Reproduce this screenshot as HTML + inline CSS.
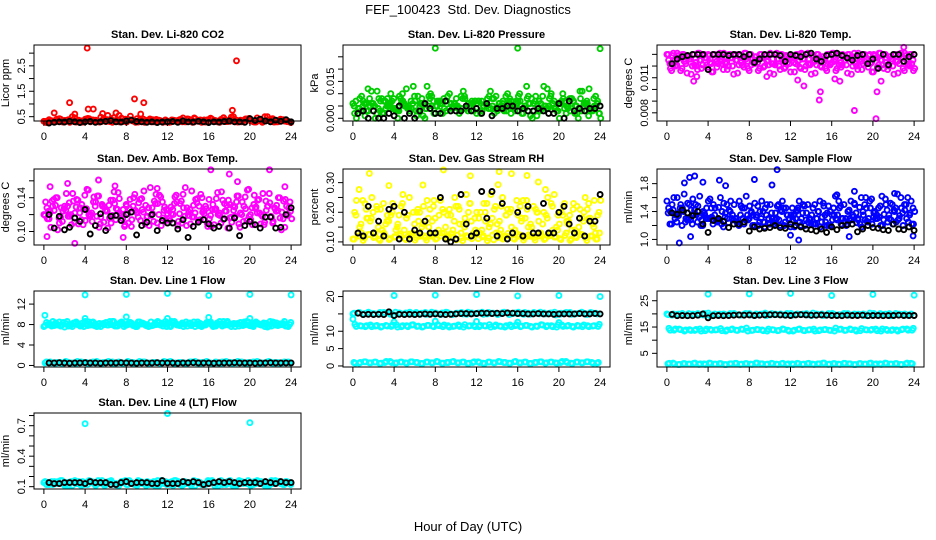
<!DOCTYPE html>
<html><head><meta charset="utf-8"><style>
html,body{margin:0;padding:0;background:#fff;}
svg{display:block;font-family:"Liberation Sans",sans-serif;}
</style></head><body>
<svg id="chart" width="936" height="540" viewBox="0 0 936 540" xmlns="http://www.w3.org/2000/svg">
<rect width="936" height="540" fill="#fff"/>
<text x="468" y="14" text-anchor="middle" font-size="13">FEF_100423&#160; Std. Dev. Diagnostics</text>
<text x="468" y="531" text-anchor="middle" font-size="13">Hour of Day (UTC)</text>
</svg>
<script>
const hourTicks=[0,4,8,12,16,20,24];
// CO2
const co2Red1=[0.32,0.38,0.3,0.42,0.35,0.28,0.45,0.33,0.4,0.3,0.36,0.48,0.31,0.39,0.34,0.44,0.29,0.37,0.42,0.33,0.3,0.38,0.35,0.28,0.32,0.36,0.3,0.34,0.4,0.29,0.33,0.37,0.31,0.35,0.28,0.38,0.32,0.3,0.36,0.41,0.33,0.29,0.37,0.34,0.4,0.3,0.35,0.31];
const co2Red2=[0.27,0.33,0.4,0.3,0.36,0.5,0.34,0.29,0.43,0.37,0.31,0.4,0.35,0.46,0.3,0.33,0.38,0.32,0.36,0.28,0.41,0.3,0.34,0.37,0.29,0.32,0.39,0.3,0.35,0.33,0.28,0.36,0.4,0.3,0.34,0.31,0.37,0.29,0.33,0.42,0.3,0.36,0.32,0.38,0.29,0.35,0.33,0.3];
const co2OutX=[1.0,2.5,3.0,4.2,4.3,4.8,5.7,6.2,7.0,7.3,8.8,9.4,9.7,13.5,14.6,18.3,18.7,21.7,18.4,8.4];
const co2OutY=[0.65,1.05,0.6,3.2,0.8,0.8,0.62,0.55,0.65,0.55,1.2,0.6,1.05,0.45,0.45,0.75,2.7,0.5,0.5,0.52];
const co2Black=[0.25,0.28,0.3,0.29,0.32,0.3,0.27,0.3,0.31,0.28,0.3,0.32,0.34,0.3,0.29,0.33,0.36,0.31,0.3,0.28,0.3,0.27,0.29,0.3,0.31,0.28,0.33,0.3,0.29,0.32,0.3,0.27,0.3,0.29,0.31,0.33,0.3,0.3,0.28,0.42,0.35,0.4,0.33,0.3,0.36,0.32,0.38,0.3];
// Pressure
const prsGreen1=[0.006,0.004,0.007,0.003,0.005,0.008,0.002,0.006,0.004,0.009,0.005,0.003,0.007,0.006,0.004,0.01,0.005,0.007,0.003,0.006,0.008,0.004,0.005,0.007,0.006,0.003,0.008,0.005,0.004,0.007,0.006,0.005,0.009,0.004,0.006,0.003,0.007,0.005,0.008,0.004,0.006,0.007,0.003,0.005,0.008,0.006,0.004,0.005];
const prsGreen2=[0.002,0.008,0.001,0.005,0.0,0.007,0.004,0.01,0.003,0.006,0.012,0.004,0.001,0.008,0.013,0.005,0.007,0.002,0.009,0.005,0.004,0.011,0.006,0.003,0.007,0.005,0.009,0.002,0.006,0.004,0.008,0.003,0.007,0.005,0.001,0.009,0.006,0.004,0.01,0.003,0.007,0.005,0.008,0.002,0.011,0.006,0.003,0.007];
const prsGreen3=[0.0,0.009,0.003,0.006,0.011,0.002,0.008,0.004,0.0,0.007,0.005,0.013,0.003,0.006,0.009,0.002,0.007,0.004,0.01,0.006,0.003,0.008,0.005,0.007,0.002,0.006,0.004,0.009,0.005,0.003,0.007,0.006,0.002,0.008,0.0,0.005,0.009,0.004,0.006,0.003,0.008,0.005,0.007,0.004,0.006,0.012,0.005,0.002];
const prsOutX=[8,16,24];
const prsOutY=[0.0285,0.0285,0.0283];
const prsBlack=[0.002,0.003,0.0,0.003,0.0,0.0,0.002,0.001,0.005,0.0,0.002,0.0,0.003,0.006,0.004,0.002,0.002,0.007,0.003,0.003,0.003,0.005,0.003,0.004,0.002,0.006,0.001,0.004,0.004,0.005,0.005,0.003,0.004,0.003,0.003,0.004,0.003,0.002,0.002,0.006,0.0,0.007,0.003,0.004,0.003,0.004,0.004,0.005];
// Li-820 Temp
const tmpMag1=[0.013,0.0129,0.0131,0.013,0.0128,0.013,0.0131,0.0129,0.013,0.013,0.0128,0.0131,0.013,0.0129,0.013,0.0131,0.013,0.0128,0.013,0.0129,0.0131,0.013,0.013,0.0129,0.0128,0.013,0.0131,0.013,0.0129,0.013,0.0128,0.013,0.0131,0.0129,0.013,0.013,0.0128,0.0131,0.013,0.0129,0.013,0.0131,0.013,0.0128,0.013,0.0129,0.0131,0.013];
const tmpMag2=[0.0125,0.0122,0.0127,0.0124,0.0126,0.0121,0.0125,0.0127,0.0123,0.0126,0.0124,0.0122,0.0127,0.0125,0.0123,0.0126,0.0121,0.0125,0.0127,0.0124,0.0122,0.0126,0.0125,0.0123,0.0127,0.0124,0.0126,0.0122,0.0125,0.0127,0.0123,0.0126,0.0124,0.0121,0.0125,0.0127,0.0123,0.0126,0.0124,0.0122,0.0127,0.0125,0.0123,0.0126,0.0124,0.0127,0.0125,0.0122];
const tmpMag3=[0.0118,0.012,0.0116,0.0122,0.0113,0.012,0.0118,0.0121,0.0115,0.0119,0.0122,0.0117,0.012,0.0114,0.0121,0.0118,0.0123,0.0116,0.0119,0.0121,0.0113,0.012,0.0118,0.0122,0.0115,0.0119,0.0117,0.0121,0.0114,0.012,0.0118,0.0122,0.0116,0.0119,0.0121,0.0113,0.012,0.0117,0.0122,0.0115,0.0119,0.0121,0.0117,0.012,0.0114,0.0118,0.0121,0.0116];
const tmpOutX=[2.6,2.9,9.7,12.7,13.3,14.9,14.8,16.3,16.8,18.2,20.3,20.4,23.0,20.8];
const tmpOutY=[0.0107,0.0111,0.0111,0.0108,0.0103,0.0098,0.0091,0.0109,0.0107,0.0082,0.0075,0.0098,0.0136,0.0107];
const tmpBlack=[0.0122,0.0126,0.0128,0.0129,0.013,0.013,0.013,0.0117,0.013,0.013,0.013,0.0129,0.013,0.013,0.0128,0.013,0.0123,0.0126,0.013,0.013,0.013,0.0129,0.0124,0.013,0.0129,0.0128,0.013,0.0131,0.0126,0.0124,0.0129,0.013,0.0131,0.0129,0.0127,0.0125,0.0129,0.013,0.0122,0.0126,0.0118,0.013,0.0121,0.013,0.013,0.0124,0.0128,0.013];
// Amb box temp
const amb1=[0.12,0.115,0.125,0.11,0.13,0.118,0.122,0.128,0.113,0.12,0.135,0.117,0.124,0.11,0.127,0.119,0.13,0.114,0.122,0.126,0.118,0.121,0.133,0.116,0.125,0.12,0.112,0.128,0.123,0.117,0.13,0.121,0.115,0.126,0.119,0.124,0.132,0.118,0.122,0.127,0.114,0.129,0.12,0.125,0.117,0.131,0.123,0.119];
const amb2=[0.135,0.105,0.14,0.128,0.145,0.108,0.138,0.132,0.15,0.112,0.142,0.13,0.104,0.137,0.146,0.126,0.11,0.14,0.134,0.148,0.107,0.136,0.143,0.129,0.113,0.141,0.133,0.152,0.109,0.138,0.144,0.127,0.106,0.139,0.147,0.131,0.111,0.142,0.135,0.149,0.108,0.137,0.145,0.13,0.112,0.14,0.136,0.128];
const amb3=[0.115,0.13,0.102,0.124,0.118,0.136,0.109,0.127,0.12,0.141,0.105,0.129,0.116,0.133,0.122,0.108,0.138,0.125,0.113,0.131,0.119,0.144,0.107,0.126,0.121,0.135,0.11,0.128,0.117,0.139,0.123,0.106,0.132,0.12,0.114,0.137,0.125,0.109,0.13,0.118,0.143,0.122,0.111,0.134,0.127,0.116,0.138,0.124];
const ambOutX=[0.6,0.3,2.3,3.0,5.3,6.9,7.7,16.2,18.0,21.9,23.4,11.0,18.8];
const ambOutY=[0.153,0.094,0.157,0.086,0.161,0.154,0.093,0.173,0.168,0.173,0.153,0.151,0.159];
const ambBlack=[0.12,0.104,0.118,0.102,0.105,0.116,0.112,0.126,0.097,0.107,0.121,0.101,0.118,0.119,0.113,0.12,0.123,0.096,0.107,0.111,0.12,0.101,0.113,0.11,0.11,0.103,0.114,0.093,0.106,0.111,0.114,0.109,0.104,0.106,0.115,0.104,0.116,0.095,0.107,0.112,0.108,0.104,0.117,0.117,0.104,0.105,0.12,0.128];
// Gas stream RH
const rh1=[0.11,0.12,0.105,0.125,0.115,0.11,0.13,0.108,0.118,0.122,0.112,0.127,0.106,0.119,0.114,0.124,0.109,0.12,0.116,0.128,0.107,0.113,0.121,0.111,0.126,0.117,0.104,0.123,0.115,0.11,0.129,0.112,0.119,0.106,0.124,0.114,0.12,0.108,0.127,0.116,0.111,0.122,0.105,0.118,0.125,0.113,0.12,0.109];
const rh2=[0.2,0.15,0.23,0.17,0.13,0.21,0.16,0.19,0.14,0.22,0.18,0.12,0.2,0.15,0.24,0.17,0.13,0.21,0.19,0.14,0.22,0.16,0.2,0.13,0.18,0.23,0.15,0.21,0.17,0.12,0.2,0.14,0.22,0.18,0.16,0.21,0.13,0.19,0.23,0.15,0.2,0.17,0.14,0.22,0.18,0.21,0.16,0.19];
const rh3=[0.24,0.13,0.18,0.25,0.21,0.14,0.19,0.23,0.16,0.26,0.12,0.2,0.17,0.22,0.15,0.24,0.19,0.13,0.21,0.25,0.16,0.18,0.23,0.14,0.2,0.17,0.26,0.13,0.22,0.19,0.15,0.24,0.18,0.21,0.12,0.2,0.16,0.25,0.14,0.19,0.22,0.17,0.23,0.15,0.2,0.18,0.24,0.13];
const rhOutX=[1.6,8.8,11.4,14.2,15.4,16.9,0.6,3.5,6.8,14.1,18.0,18.7];
const rhOutY=[0.331,0.343,0.323,0.337,0.33,0.324,0.277,0.29,0.292,0.293,0.302,0.277];
const rhBlack=[0.13,0.12,0.22,0.13,0.17,0.12,0.21,0.22,0.11,0.2,0.11,0.14,0.13,0.17,0.13,0.13,0.25,0.11,0.1,0.11,0.26,0.16,0.12,0.13,0.27,0.18,0.27,0.12,0.23,0.11,0.13,0.2,0.12,0.22,0.13,0.13,0.23,0.13,0.13,0.2,0.22,0.16,0.13,0.18,0.12,0.17,0.17,0.26];
// Sample flow
const sf1=[1.55,1.5,1.6,1.45,1.52,1.58,1.48,1.4,1.55,1.5,1.46,1.52,1.42,1.5,1.55,1.45,1.48,1.52,1.4,1.45,1.5,1.38,1.42,1.45,1.35,1.4,1.3,1.38,1.35,1.3,1.32,1.38,1.28,1.35,1.3,1.4,1.32,1.28,1.35,1.3,1.38,1.32,1.36,1.3,1.4,1.34,1.42,1.38];
const sf2=[1.45,1.6,1.38,1.65,1.5,1.42,1.62,1.35,1.58,1.45,1.6,1.38,1.55,1.3,1.48,1.62,1.4,1.35,1.55,1.5,1.3,1.48,1.55,1.35,1.28,1.45,1.5,1.25,1.22,1.4,1.48,1.2,1.35,1.45,1.25,1.3,1.5,1.22,1.28,1.45,1.3,1.2,1.5,1.28,1.25,1.45,1.3,1.22];
const sf3=[1.4,1.35,1.5,1.3,1.42,1.35,1.28,1.45,1.32,1.25,1.4,1.3,1.35,1.22,1.3,1.28,1.35,1.2,1.25,1.3,1.22,1.28,1.2,1.3,1.18,1.25,1.2,1.28,1.22,1.18,1.25,1.2,1.3,1.22,1.2,1.28,1.24,1.18,1.26,1.22,1.3,1.2,1.25,1.22,1.28,1.2,1.25,1.22];
const sfOutX=[1.2,2.3,2.2,2.7,1.7,3.5,5.1,5.7,8.5,10.2,10.7,12.0,12.8,18.2,19.3,16.5,22.1,17.7,23.9];
const sfOutY=[0.95,1.04,1.89,1.91,1.81,1.82,1.85,1.77,1.86,1.78,2.0,1.06,0.99,1.69,1.6,1.64,1.66,1.04,1.05];
const sfBlack=[1.38,1.36,1.42,1.38,1.34,1.4,1.22,1.1,1.27,1.3,1.26,1.17,1.22,1.22,1.25,1.12,1.18,1.15,1.16,1.17,1.2,1.17,1.16,1.22,1.2,1.18,1.15,1.14,1.12,1.15,1.1,1.18,1.14,1.2,1.21,1.22,1.11,1.15,1.2,1.17,1.16,1.14,1.13,1.22,1.15,1.14,1.18,1.13];
// Line 1
const l1a=[7.6,8.2,7.8,8.5,7.5,8.0,8.3,7.7,8.6,7.9,8.1,7.6,8.4,8.0,7.7,8.5,7.9,8.2,7.6,8.3,8.0,7.8,8.6,7.7,8.1,8.4,7.9,7.6,8.2,8.5,7.8,8.0,8.3,7.7,8.6,7.9,8.1,7.6,8.4,8.0,7.8,8.5,7.9,8.2,7.7,8.3,8.0,7.8];
const l1b=[8.4,7.7,8.1,7.9,8.6,7.6,8.0,8.3,7.8,8.5,7.7,8.2,7.9,8.6,8.1,7.6,8.4,7.8,8.5,8.0,7.7,8.3,7.9,8.6,7.6,8.2,8.0,8.5,7.8,8.1,7.6,8.4,7.9,8.3,7.7,8.6,8.0,8.2,7.8,8.5,7.6,8.1,8.3,7.7,8.4,7.9,8.6,8.0];
const l1low=[0.5,0.7,0.4,0.6,0.8,0.5,0.4,0.7,0.6,0.5,0.8,0.4,0.6,0.7,0.5,0.4,0.8,0.6,0.5,0.7,0.4,0.6,0.5,0.8,0.7,0.4,0.6,0.5,0.7,0.8,0.4,0.6,0.5,0.7,0.4,0.8,0.6,0.5,0.7,0.4,0.6,0.8,0.5,0.7,0.4,0.6,0.5,0.7];
const l1OutX=[0.1,4,8,12,16,20,24,4,8,12,16,20];
const l1OutY=[9.8,13.8,13.9,14.1,13.7,13.9,13.8,9.2,9.5,9.2,9.4,9.2];
const l1Black=[0.5,0.5,0.55,0.5,0.45,0.5,0.5,0.55,0.5,0.5,0.45,0.5,0.5,0.5,0.55,0.5,0.5,0.45,0.5,0.5,0.5,0.55,0.5,0.5,0.5,0.45,0.5,0.5,0.55,0.5,0.5,0.5,0.45,0.5,0.5,0.5,0.55,0.5,0.5,0.5,0.45,0.5,0.5,0.55,0.5,0.5,0.5,0.5];
// Line 2
const l2hi=[15.0,15.3,14.8,15.5,15.1,14.9,15.4,15.2,14.7,15.3,15.0,15.5,15.2,14.9,15.4,15.1,15.3,14.8,15.5,15.0,15.2,15.4,14.9,15.3,15.1,15.5,15.0,15.2,14.8,15.4,15.3,15.1,15.5,14.9,15.2,15.4,15.0,15.3,15.1,15.5,14.9,15.2,15.4,15.0,15.3,15.1,15.4,15.2];
const l2mid=[12.0,11.6,11.3,11.8,11.5,11.2,11.7,11.4,11.9,11.3,11.6,11.8,11.4,11.2,11.7,11.5,11.9,11.3,11.6,11.4,11.8,11.2,11.5,11.7,11.3,11.6,11.9,11.4,11.5,11.2,11.8,11.6,11.3,11.7,11.4,11.5,11.9,11.3,11.6,11.2,11.8,11.5,11.4,11.7,11.3,11.6,11.5,11.4];
const l2low=[1.0,0.8,1.2,0.9,1.1,0.7,1.0,1.3,0.8,1.1,0.9,1.2,1.0,0.7,1.1,0.9,1.3,0.8,1.0,1.2,0.9,1.1,0.7,1.0,1.2,0.8,1.1,0.9,1.3,1.0,0.8,1.2,0.9,1.1,0.7,1.0,1.2,0.8,1.1,0.9,1.0,1.3,0.8,1.1,0.9,1.2,1.0,0.8];
const l2OutX=[0,4,8,12,16,20,24,4,8,12,16,20];
const l2OutY=[13.5,20.3,20.4,20.6,20.2,20.3,20.0,12.7,12.9,12.8,12.6,12.5];
const l2Black=[15.2,14.8,14.9,14.8,14.9,14.8,15.6,14.5,14.9,14.8,14.9,14.8,14.9,15.0,14.9,15.0,14.9,14.8,14.9,15.0,15.1,15.1,15.0,15.1,15.2,15.2,15.1,15.2,15.1,15.3,15.2,15.1,15.1,15.0,15.0,15.1,15.0,15.0,14.9,15.0,15.0,15.0,15.0,15.1,15.0,15.0,15.1,15.0];
// Line 3
const l3hi=[20.0,19.5,19.8,20.2,19.3,19.9,20.1,19.6,20.3,19.4,19.8,20.0,19.5,20.2,19.7,19.9,20.1,19.4,19.8,20.3,19.6,19.9,20.0,19.5,20.2,19.7,19.8,20.1,19.4,19.9,20.0,19.6,20.2,19.5,19.8,20.1,19.7,19.9,20.0,19.4,20.2,19.6,19.8,20.1,19.5,19.9,20.0,19.7];
const l3mid=[14.5,13.8,14.2,13.5,14.0,13.7,14.3,13.6,14.1,13.9,14.4,13.5,14.0,13.8,14.2,14.6,13.7,14.1,13.9,13.5,14.0,13.6,14.3,13.8,13.5,14.1,13.7,13.9,14.2,13.6,14.0,13.8,13.5,14.1,13.7,14.3,13.9,13.6,14.0,13.8,14.2,13.5,14.1,13.7,13.9,14.0,14.3,13.8];
const l3low=[1.0,1.3,0.7,1.1,0.9,1.2,0.8,1.0,1.3,0.9,1.1,0.7,1.0,1.2,0.8,1.1,0.9,1.3,1.0,0.8,1.2,0.9,1.1,0.7,1.0,1.2,0.8,1.1,0.9,1.0,1.3,0.8,1.1,0.9,1.2,1.0,0.7,1.1,0.9,1.2,0.8,1.0,1.3,0.9,1.1,0.8,1.0,1.2];
const l3OutX=[4,8,12,16,20,24];
const l3OutY=[27.5,27.6,27.8,27.0,27.4,27.1];
const l3Black=[19.8,19.3,19.4,19.3,19.3,19.5,20.0,18.5,19.3,19.4,19.3,19.4,19.5,19.6,19.5,19.6,19.4,19.5,19.6,19.7,19.7,19.6,19.5,19.4,19.6,19.7,19.6,19.5,19.5,19.6,19.5,19.4,19.4,19.3,19.5,19.4,19.4,19.5,19.3,19.4,19.4,19.3,19.4,19.4,19.5,19.4,19.4,19.4];
// Line 4
const l4a=[0.14,0.12,0.15,0.13,0.11,0.14,0.16,0.12,0.13,0.15,0.11,0.14,0.12,0.16,0.13,0.15,0.12,0.14,0.11,0.13,0.15,0.12,0.16,0.14,0.13,0.11,0.15,0.12,0.14,0.16,0.13,0.12,0.15,0.11,0.14,0.13,0.16,0.12,0.15,0.14,0.11,0.13,0.15,0.12,0.16,0.14,0.13,0.15];
const l4b=[0.12,0.15,0.13,0.16,0.14,0.11,0.13,0.15,0.12,0.14,0.16,0.12,0.15,0.13,0.11,0.14,0.16,0.12,0.15,0.13,0.14,0.11,0.13,0.15,0.12,0.16,0.14,0.13,0.11,0.15,0.12,0.14,0.16,0.13,0.12,0.15,0.11,0.14,0.13,0.16,0.12,0.15,0.14,0.11,0.13,0.15,0.12,0.14];
const l4OutX=[4,12,20];
const l4OutY=[0.72,0.82,0.73];
const l4Black=[0.14,0.13,0.13,0.14,0.14,0.14,0.14,0.13,0.15,0.14,0.14,0.14,0.12,0.12,0.14,0.15,0.13,0.14,0.14,0.14,0.13,0.13,0.16,0.13,0.13,0.13,0.15,0.14,0.15,0.14,0.12,0.13,0.14,0.15,0.14,0.15,0.14,0.13,0.14,0.14,0.14,0.13,0.15,0.14,0.13,0.15,0.14,0.14];

const RED='#ff0000',GRN='#00cd00',MAG='#ff00ff',YEL='#ffff00',BLU='#0000ff',CYN='#00ffff';
const panels=[
 {name:'co2',title:'Stan. Dev. Li-820 CO2',ylab:'Licor ppm',col:0,row:0,ylim:[0.33,3.32],ticks:[0.5,1,1.5,2,2.5,3],labels:['0.5','','1.5','','2.5',''],
  bands:[[RED,co2Red1,0],[RED,co2Red2,0.25]],out:[RED,co2OutX,co2OutY],black:co2Black},
 {name:'pressure',title:'Stan. Dev. Li-820 Pressure',ylab:'kPa',col:1,row:0,ylim:[-0.0011,0.0298],ticks:[0,0.005,0.01,0.015,0.02,0.025],labels:['0.000','','','0.015','',''],
  bands:[[GRN,prsGreen1,0],[GRN,prsGreen2,0.17],[GRN,prsGreen3,0.34]],out:[GRN,prsOutX,prsOutY],black:prsBlack},
 {name:'li820-temp',title:'Stan. Dev. Li-820 Temp.',ylab:'degrees C',col:2,row:0,ylim:[0.0073,0.0138],ticks:[0.008,0.009,0.01,0.011,0.012,0.013],labels:['0.008','','','0.011','',''],
  bands:[[MAG,tmpMag1,0],[MAG,tmpMag2,0.17],[MAG,tmpMag3,0.34]],out:[MAG,tmpOutX,tmpOutY],black:tmpBlack},
 {name:'amb-box-temp',title:'Stan. Dev. Amb. Box Temp.',ylab:'degrees C',col:0,row:1,ylim:[0.084,0.174],ticks:[0.1,0.12,0.14,0.16],labels:['0.10','','0.14',''],
  bands:[[MAG,amb1,0],[MAG,amb2,0.17],[MAG,amb3,0.34]],out:[MAG,ambOutX,ambOutY],black:ambBlack},
 {name:'gas-stream-rh',title:'Stan. Dev. Gas Stream RH',ylab:'percent',col:1,row:1,ylim:[0.0896,0.346],ticks:[0.1,0.15,0.2,0.25,0.3],labels:['0.10','','0.20','','0.30'],
  bands:[[YEL,rh1,0],[YEL,rh2,0.17],[YEL,rh3,0.34]],out:[YEL,rhOutX,rhOutY],black:rhBlack},
 {name:'sample-flow',title:'Stan. Dev. Sample Flow',ylab:'ml/min',col:2,row:1,ylim:[0.92,2.01],ticks:[1,1.2,1.4,1.6,1.8],labels:['1.0','','1.4','','1.8'],
  bands:[[BLU,sf1,0],[BLU,sf2,0.17],[BLU,sf3,0.34]],out:[BLU,sfOutX,sfOutY],black:sfBlack},
 {name:'line1-flow',title:'Stan. Dev. Line 1 Flow',ylab:'ml/min',col:0,row:2,ylim:[-0.3,14.56],ticks:[0,4,8,12],labels:['0','4','8','12'],
  bands:[[CYN,l1a,0],[CYN,l1b,0.25],[CYN,l1low,0.12]],out:[CYN,l1OutX,l1OutY],black:l1Black},
 {name:'line2-flow',title:'Stan. Dev. Line 2 Flow',ylab:'ml/min',col:1,row:2,ylim:[-0.3,21.6],ticks:[0,5,10,15,20],labels:['0','5','10','','20'],
  bands:[[CYN,l2hi,0],[CYN,l2mid,0.2],[CYN,l2low,0.1]],out:[CYN,l2OutX,l2OutY],black:l2Black},
 {name:'line3-flow',title:'Stan. Dev. Line 3 Flow',ylab:'ml/min',col:2,row:2,ylim:[-0.2,28.7],ticks:[5,10,15,20,25],labels:['5','','15','','25'],
  bands:[[CYN,l3hi,0],[CYN,l3mid,0.2],[CYN,l3low,0.1]],out:[CYN,l3OutX,l3OutY],black:l3Black},
 {name:'line4-flow',title:'Stan. Dev. Line 4 (LT) Flow',ylab:'ml/min',col:0,row:3,ylim:[0.077,0.825],ticks:[0.1,0.2,0.3,0.4,0.5,0.6,0.7,0.8],labels:['0.1','','','0.4','','','0.7',''],
  bands:[[CYN,l4a,0],[CYN,l4b,0.25]],out:[CYN,l4OutX,l4OutY],black:l4Black}
];
const colX=[34,343,657], rowY=[45,169,291,413], BW=267, BH=76;
const svg=document.getElementById('chart');
const NS='http://www.w3.org/2000/svg';
function mk(tag,attrs,parent){const e=document.createElementNS(NS,tag);for(const k in attrs)e.setAttribute(k,attrs[k]);parent.appendChild(e);return e;}
panels.forEach(p=>{
  const bx=colX[p.col], by=rowY[p.row];
  const g=mk('g',{},svg);
  
  
  const xs=h=>bx+(h+0.96)/25.92*BW;
  const ys=v=>by+BH-(v-p.ylim[0])/(p.ylim[1]-p.ylim[0])*BH;
  const t=mk('text',{x:bx+BW/2,y:by-7,'text-anchor':'middle','font-size':'11','font-weight':'bold'},g);
  t.textContent=p.title;
  
  
  const yl=mk('text',{x:0,y:0,'text-anchor':'middle','font-size':'11',transform:`translate(${bx-25},${by+BH/2}) rotate(-90)`},g);
  yl.textContent=p.ylab;
  
  
  const dots=mk('g',{fill:'none','stroke-width':'1.9'},g);
  
  
  function dot(h,v,c){mk('circle',{cx:xs(h).toFixed(1),cy:ys(v).toFixed(1),r:2.5,stroke:c},dots);}
  p.bands.forEach(b=>{
    const arr=b[1],n=arr.length;
    arr.forEach((v,i)=>dot(b[2]+i*23.6/(n-1),v,b[0]));
    // second pass: same readings drawn in reverse order at intermediate times for density
    arr.slice().reverse().forEach((v,i)=>dot(b[2]+0.12+i*23.6/(n-1),v,b[0]));
  });
  p.out[1].forEach((h,i)=>dot(h,p.out[2][i],p.out[0]));
  p.black.forEach((v,i)=>dot(0.5+i*0.5,v,'#000'));
  const box=mk('rect',{x:bx,y:by,width:BW,height:BH,fill:'none',stroke:'#000','stroke-width':'1'},g);
  
  
  const ax=mk('g',{stroke:'#000','stroke-width':'1'},g);
  
  
  mk('line',{x1:xs(0),x2:xs(24),y1:by+BH,y2:by+BH},ax);
  hourTicks.forEach(h=>{
    mk('line',{x1:xs(h),x2:xs(h),y1:by+BH,y2:by+BH+5},ax);
    const tl=mk('text',{x:xs(h),y:by+BH+19,'text-anchor':'middle','font-size':'11',stroke:'none'},g);
    tl.textContent=h;
    
    
  });
  mk('line',{x1:bx,x2:bx,y1:ys(p.ticks[0]),y2:ys(p.ticks[p.ticks.length-1])},ax);
  p.ticks.forEach((v,i)=>{
    mk('line',{x1:bx-5,x2:bx,y1:ys(v),y2:ys(v)},ax);
    if(p.labels[i]){
      const tl=mk('text',{x:0,y:0,'text-anchor':'middle','font-size':'11',transform:`translate(${bx-9},${ys(v)}) rotate(-90)`},g);
      tl.textContent=p.labels[i];
      
      
    }
  });
});
</script>
</body></html>
